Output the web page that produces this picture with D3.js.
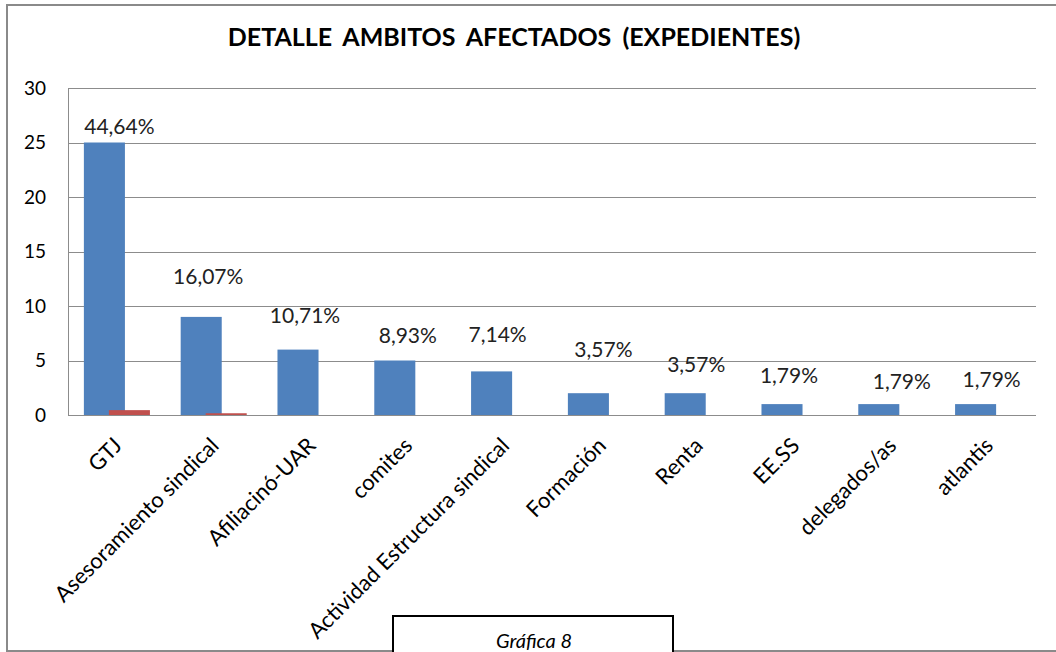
<!DOCTYPE html>
<html>
<head>
<meta charset="utf-8">
<script src="https://cdn.jsdelivr.net/npm/d3@7"></script>
<style>
  body { margin: 0; background: #fff; }
  svg { display: block; font-family: Lato, "Liberation Sans", sans-serif; }
</style>
</head>
<body>
<div id="chart"></div>
<script>
// datos
var ambitos = ["GTJ", "Asesoramiento sindical", "Afiliacinó-UAR", "comites",
  "Actividad Estructura sindical", "Formación", "Renta", "EE.SS", "delegados/as", "atlantis"];
var expedientes = [25, 9, 6, 5, 4, 2, 2, 1, 1, 1];
var porcentaje = [0.4464, 0.1607, 0, 0, 0, 0, 0, 0, 0, 0];
var etiquetas = ["44,64%", "16,07%", "10,71%", "8,93%", "7,14%", "3,57%", "3,57%", "1,79%", "1,79%", "1,79%"];
var yTicks = [0, 5, 10, 15, 20, 25, 30];

// colocacion manual de las etiquetas (px)
var labelDx = [3, -5, -5, 1, -6, 3, -1, -5, 11, 4];
var labelLift = [9, 33, 27, 18, 29, 36, 21, 21, 15, 17];

var width = 1056, height = 652;
var m = { left: 68, right: 20, top: 88, bottom: 237 };

var svg = d3.select("#chart").append("svg")
  .attr("width", width)
  .attr("height", height);

// marco exterior
svg.append("rect")
  .attr("x", 7).attr("y", 5)
  .attr("width", 1070).attr("height", 646)
  .attr("fill", "#fff")
  .attr("stroke", "#8a8a8a")
  .attr("stroke-width", 2);

svg.append("text")
  .attr("x", 514).attr("y", 46)
  .attr("text-anchor", "middle")
  .style("font-weight", "bold")
  .style("font-size", "25px")
  .style("word-spacing", "5px")
  .attr("fill", "#000")
  .text("DETALLE AMBITOS AFECTADOS (EXPEDIENTES)");

var x = d3.scaleBand()
  .domain(ambitos)
  .range([m.left, width - m.right])
  .padding(0);

var y = d3.scaleLinear()
  .domain([0, 30])
  .range([height - m.bottom - 0, m.top]);

var bw = x.bandwidth();
var barW = bw * 0.424;
var serie = d3.scalePoint()
  .domain(["expedientes", "porcentaje"])
  .range([bw / 2 - 12, bw / 2 + 13]);

// rejilla
svg.append("g")
  .selectAll("line")
  .data(yTicks)
  .enter()
  .append("line")
  .attr("x1", m.left)
  .attr("x2", width - m.right)
  .attr("y1", function (d) { return Math.round(y(d)) + 0.5; })
  .attr("y2", function (d) { return Math.round(y(d)) + 0.5; })
  .attr("stroke", "#8c8c8c")
  .attr("stroke-width", 1);

var yAxis = svg.append("g")
  .attr("transform", "translate(" + m.left + ",0)")
  .call(d3.axisLeft(y).tickValues(yTicks).tickSize(0).tickPadding(22));
yAxis.select(".domain").attr("stroke", "#8c8c8c");
yAxis.selectAll("text")
  .style("font-size", "19px")
  .style("font-family", "Lato, sans-serif")
  .attr("fill", "#000");

// barras
svg.append("g")
  .selectAll("rect")
  .data(expedientes)
  .enter()
  .append("rect")
  .attr("x", function (d, i) { return x(ambitos[i]) + serie("expedientes") - barW / 2; })
  .attr("y", function (d) { return y(d); })
  .attr("width", barW)
  .attr("height", function (d) { return y(0) - y(d); })
  .attr("fill", "#4f81bd");

svg.append("g")
  .selectAll("rect")
  .data(porcentaje)
  .enter()
  .append("rect")
  .attr("x", function (d, i) { return x(ambitos[i]) + serie("porcentaje") - barW / 2; })
  .attr("y", function (d) { return y(d); })
  .attr("width", barW)
  .attr("height", function (d) { return y(0) - y(d); })
  .attr("fill", "#c0504d");

// etiquetas de porcentaje
svg.append("g")
  .selectAll("text")
  .data(etiquetas)
  .enter()
  .append("text")
  .attr("x", function (d, i) { return x(ambitos[i]) + bw / 2 + labelDx[i]; })
  .attr("y", function (d, i) { return y(expedientes[i]) - labelLift[i]; })
  .attr("text-anchor", "middle")
  .style("font-size", "21px")
  .attr("fill", "#222")
  .text(function (d) { return d; });

// categorias giradas
svg.append("g")
  .selectAll("text")
  .data(ambitos)
  .enter()
  .append("text")
  .attr("transform", function (d) {
    return "translate(" + (x(d) + bw / 2 + 7) + "," + 447 + ") rotate(-45)";
  })
  .attr("text-anchor", "end")
  .style("font-size", "22px")
  .attr("fill", "#000")
  .text(function (d) { return d; });

// recuadro inferior
svg.append("rect")
  .attr("x", 393).attr("y", 616)
  .attr("width", 280).attr("height", 60)
  .attr("fill", "#fff")
  .attr("stroke", "#000")
  .attr("stroke-width", 2);

svg.append("text")
  .attr("x", 534).attr("y", 648)
  .attr("text-anchor", "middle")
  .style("font-style", "italic")
  .style("font-size", "20px")
  .attr("fill", "#000")
  .text("Gráfica 8");
</script>
</body>
</html>
